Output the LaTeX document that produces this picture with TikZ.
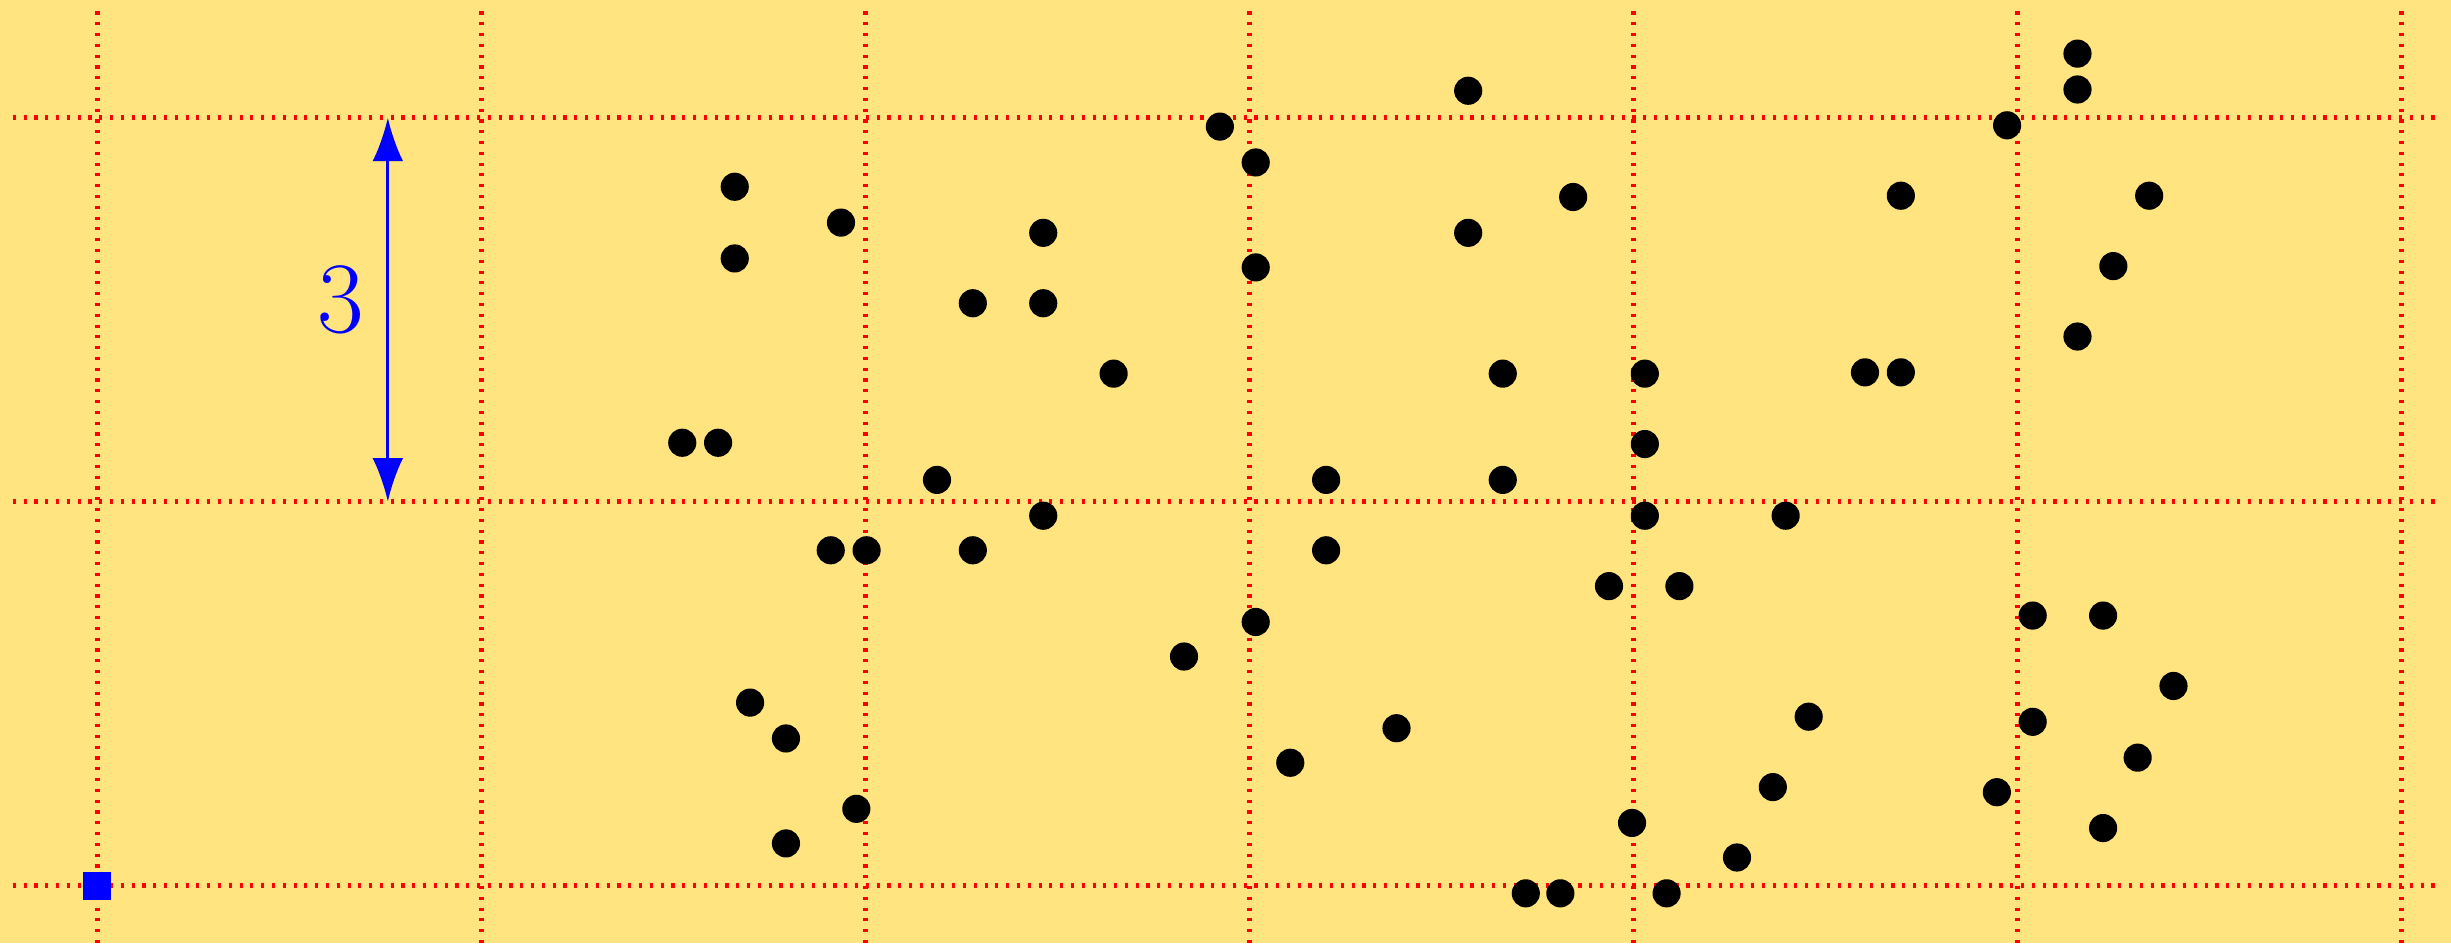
\documentclass[tikz,border=0pt]{standalone}
\usetikzlibrary{arrows.meta, positioning}
\definecolor{sand}{RGB}{255,228,128}

\begin{document}
\begin{tikzpicture}[
    dot/.style={circle, fill=black, inner sep=0pt, minimum size=0.22cm},
    origmark/.style={rectangle, fill=blue, inner sep=0pt, minimum size=0.22cm},
    gridline/.style={red, line width=1.2pt, dash pattern=on 0.7pt off 1.7pt},
    dimarrow/.style={{Latex[length=3.4mm, width=2.4mm]}-{Latex[length=3.4mm, width=2.4mm]},
                     blue, line width=0.7pt},
    dimlabel/.style={text=blue, inner sep=0pt, font=\fontsize{22.5}{27}\selectfont}
  ]
    % Background
    \fill[sand] (-0.76,-0.448) rectangle (18.388,6.919);
    \useasboundingbox (-0.76,-0.448) rectangle (18.388,6.919);

    % Grid
    \foreach \x in {0,3,...,18}
      \draw[gridline] (\x,6.83) -- (\x,-0.45);
    \foreach \y in {0,3,6}
      \draw[gridline] (-0.66,\y) -- (18.27,\y);

    % Length bar
    \coordinate (bot) at (2.27,3);
    \coordinate (top) at (2.27,6);
    \draw[dimarrow] (bot) -- (top);
    \node[dimlabel] (len) at (1.9,4.58) {3};

    % Origin
    \node[origmark] (o) at (0,0) {};

    % Points
    \foreach \x/\y [count=\i] in {4.98/5.46, 4.98/4.90, 4.57/3.46, 4.85/3.46,
        10.71/6.21, 8.77/5.93, 9.05/5.65, 11.53/5.38, 5.81/5.18, 7.39/5.10,
        10.71/5.10, 9.05/4.83, 6.84/4.55, 7.39/4.55, 7.94/4.00, 10.98/4.00,
        15.47/6.50, 15.47/6.22, 14.92/5.94, 14.09/5.39, 16.03/5.39, 15.75/4.84,
        15.47/4.29, 12.09/4.00, 13.81/4.01, 14.09/4.01, 12.09/3.45,
        5.10/1.43, 5.38/1.15, 5.38/0.33,
        6.56/3.17, 9.60/3.17, 10.98/3.17, 7.39/2.89, 5.73/2.62, 6.01/2.62,
        6.84/2.62, 9.60/2.62, 11.81/2.34, 9.05/2.06, 8.49/1.79, 10.15/1.23,
        9.32/0.96, 5.93/0.60, 11.16/-0.06, 11.43/-0.06,
        12.09/2.89, 13.19/2.89, 12.36/2.34, 15.12/2.11, 15.67/2.11, 16.22/1.56,
        13.37/1.32, 15.12/1.28, 15.94/1.00, 13.09/0.77, 14.84/0.73, 11.99/0.49,
        15.67/0.45, 12.81/0.22, 12.26/-0.06}
      \node[dot] (p\i) at (\x,\y) {};
\end{tikzpicture}
\end{document}
